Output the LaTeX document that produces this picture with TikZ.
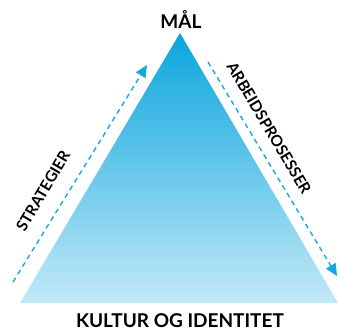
\documentclass[tikz,border=0pt]{standalone}
\usepackage{fontspec}
\setmainfont{Lato}
\usepackage{tikz}
\usetikzlibrary{arrows.meta,calc}
\definecolor{malblue}{HTML}{0AA5DD}
\definecolor{palblue}{HTML}{C2E9F7}
\definecolor{dashblue}{HTML}{1AA7DE}

\begin{document}
\begin{tikzpicture}[x=1pt,y=-1pt,
		lbl/.style={font=\bfseries\fontsize{19}{19}\selectfont},
		sidelbl/.style={font=\bfseries\fontsize{15.5}{15.5}\selectfont},
		flow/.style={dashblue,line width=1.4pt,dash pattern=on 5pt off 4pt,-{Triangle[length=12pt,width=11pt]}}]
		\useasboundingbox (0,0) rectangle (338,332);
		\coordinate (top) at (180,33);
		\coordinate (bl) at (20,303);
		\coordinate (br) at (338,303);
		\shade[top color=malblue,bottom color=palblue] (top) -- (bl) -- (br) -- cycle;
		\coordinate (sA) at (13,282);
		\coordinate (sB) at (147,65);
		\coordinate (aA) at (208,62);
		\coordinate (aB) at (337,276);
		\draw[flow] (sA) -- (sB);
		\draw[flow] (aA) -- (aB);
		\node[lbl] (mal) at (181,19) {MÅL};
		\node[lbl] (kultur) at (180,321) {KULTUR OG IDENTITET};
		\node[sidelbl,rotate=59.4] (strat) at (43,191) {STRATEGIER};
		\node[sidelbl,rotate=-59.4] (arb) at (269,128) {ARBEIDSPROSESSER};
		\end{tikzpicture}
\end{document}
